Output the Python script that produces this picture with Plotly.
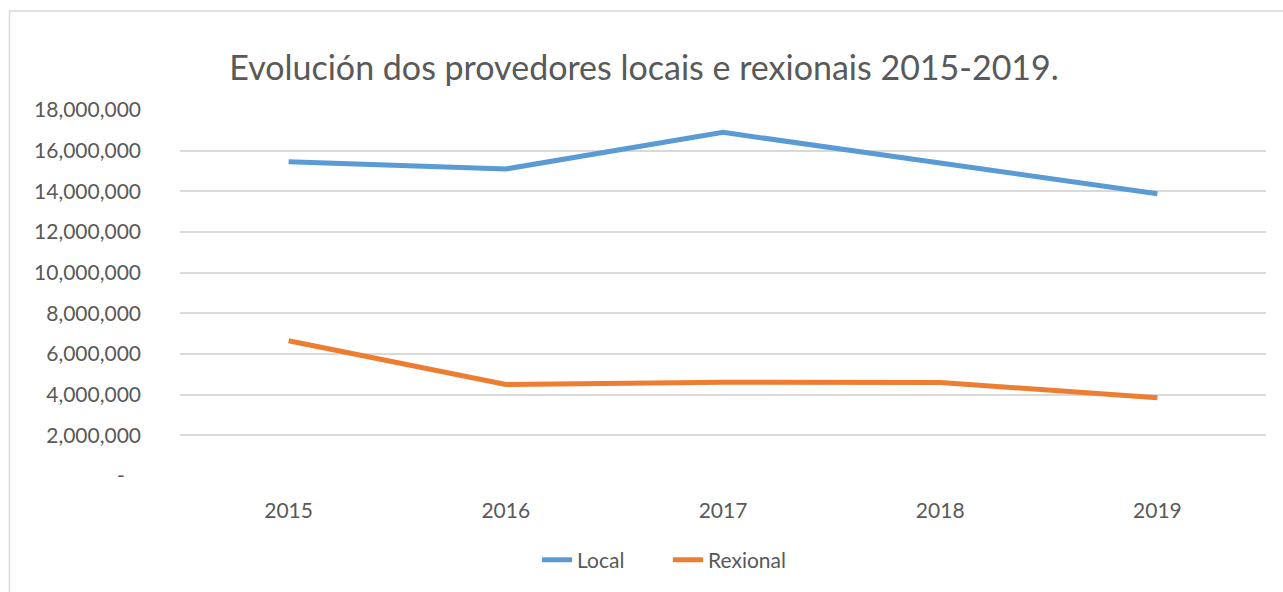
import plotly.graph_objects as go

# Annual amounts by supplier type
years = ["2015", "2016", "2017", "2018", "2019"]
local_values = [15450000, 15100000, 16900000, 15420000, 13880000]
regional_values = [6650000, 4500000, 4610000, 4600000, 3850000]

y_tick_values = [0, 2000000, 4000000, 6000000, 8000000, 10000000,
                 12000000, 14000000, 16000000, 18000000]
y_tick_labels = ["-\u00a0\u00a0\u00a0"] + [f"{v:,}" for v in y_tick_values[1:]]

FONT = "Lato"
TEXT_GREY = "#595959"
GRID = "#d9d9d9"

fig = go.Figure()
fig.add_trace(go.Scatter(
    x=years, y=local_values, name="Local", mode="lines",
    line=dict(color="#5B9BD5", width=5),
))
fig.add_trace(go.Scatter(
    x=years, y=regional_values, name="Rexional", mode="lines",
    line=dict(color="#ED7D31", width=5),
))

fig.update_layout(
    width=1283, height=592,
    margin=dict(l=180, r=17, t=110, b=116),
    paper_bgcolor="white", plot_bgcolor="white",
    font=dict(family=FONT, color=TEXT_GREY, size=21),
    title=dict(
        text="Evolución dos provedores locais e rexionais 2015-2019.",
        x=0.502, xref="container", xanchor="center",
        y=1 - 68 / 592, yref="container", yanchor="middle",
        font=dict(family=FONT, size=34, color=TEXT_GREY),
    ),
    showlegend=True,
    legend=dict(
        orientation="h", x=(537 - 180) / 1086, xanchor="left",
        y=(476 - 560) / 366, yanchor="middle",
        font=dict(family=FONT, size=21, color=TEXT_GREY),
        bgcolor="rgba(0,0,0,0)", itemwidth=30,
        entrywidth=86, entrywidthmode="pixels",
    ),
    xaxis=dict(
        type="category", range=[-0.5, 4.5],
        showgrid=False, showline=False, zeroline=False,
        ticks="", ticklabelstandoff=20,
        tickfont=dict(family=FONT, size=21, color=TEXT_GREY),
    ),
    yaxis=dict(
        range=[0, 18000000], tickvals=y_tick_values, ticktext=y_tick_labels,
        showgrid=True, gridcolor=GRID, gridwidth=1.5,
        zeroline=False, showline=False, ticks="",
        ticklabelstandoff=38,
        tickfont=dict(family=FONT, size=21, color=TEXT_GREY),
    ),
    shapes=[dict(
        type="rect", xref="paper", yref="paper",
        x0=(9.5 - 180) / 1086, x1=(1300 - 180) / 1086,
        y0=(476 - 610) / 366, y1=(476 - 11) / 366,
        line=dict(color=GRID, width=1.5), fillcolor="rgba(0,0,0,0)",
        layer="below",
    )],
)

fig.write_html("out.html")
